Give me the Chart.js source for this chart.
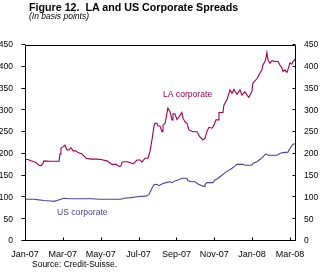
<!DOCTYPE html>
<html>
<head>
<meta charset="utf-8">
<script src="https://cdn.jsdelivr.net/npm/chart.js@4/dist/chart.umd.min.js"></script>
<style>
  html, body { margin: 0; padding: 0; background: #fff; }
  #wrap { position: relative; width: 320px; height: 279px; overflow: hidden; font-family: "Liberation Sans", Arial, sans-serif; color: #000; }
  #c { position: absolute; left: 0; top: 0; }
  .txt { position: absolute; white-space: nowrap; line-height: 1; }
  #title { left: 29px; top: 1.5px; font-size: 10.7px; font-weight: bold; }
  #subtitle { left: 29px; top: 11.8px; font-size: 8.5px; font-style: italic; }
  #source { left: 32px; top: 259.8px; font-size: 8.5px; }
</style>
</head>
<body>
<div id="wrap">
  <canvas id="c" width="320" height="279"></canvas>
  <div class="txt" id="title">Figure 12.&nbsp; LA and US Corporate Spreads</div>
  <div class="txt" id="subtitle">(In basis points)</div>
  <div class="txt" id="source">Source: Credit-Suisse.</div>
</div>
<script>
// Tick labels on the time axis (every two months, starting Jan-07 = month 0)
const xTickLabels = ['Jan-07', 'Mar-07', 'May-07', 'Jul-07', 'Sep-07', 'Nov-07', 'Jan-08', 'Mar-08'];

// LA corporate spread: months since 1 Jan 2007 and basis points
const laMonths = [0, 0.16, 0.32, 0.58, 0.74, 0.85, 0.95, 1.0, 1.32, 1.8, 1.85, 1.9, 2.0, 2.11, 2.22, 2.32, 2.43, 2.54, 2.69, 2.8,
  3.01, 3.22, 3.49, 3.8, 4.01, 4.33, 4.6, 4.81, 4.97, 5.07, 5.12, 5.18, 5.39, 5.55, 5.71, 5.92, 6.08, 6.18, 6.34, 6.5,
  6.6, 6.71, 6.81, 6.87, 6.97, 7.03, 7.13, 7.24, 7.29, 7.4, 7.5, 7.55, 7.66, 7.77, 7.82, 7.92, 8.03, 8.14, 8.29, 8.35,
  8.45, 8.56, 8.66, 8.87, 9.09, 9.24, 9.4, 9.51, 9.61, 9.72, 9.88, 9.98, 10.09, 10.2, 10.25, 10.46, 10.51, 10.67, 10.72, 10.83,
  10.94, 11.04, 11.2, 11.36, 11.46, 11.62, 11.73, 11.83, 11.99, 12.04, 12.26, 12.41, 12.52, 12.57, 12.68, 12.73, 12.78, 12.84, 12.94, 13.05,
  13.21, 13.37, 13.47, 13.58, 13.63, 13.73, 13.84, 13.89, 14.0, 14.1, 14.16, 14.26, 14.32];
const laSpread = [187, 187, 184, 180, 174, 173, 178, 184, 183, 183, 200, 213, 216, 220, 209, 209, 214, 207, 207, 203,
  200, 190, 188, 188, 187, 184, 176, 176, 171, 172, 180, 182, 182, 180, 177, 186, 186, 181, 190, 190,
  205, 232, 262, 270, 270, 264, 264, 251, 266, 270, 293, 305, 297, 278, 292, 292, 279, 285, 295, 282,
  274, 270, 255, 251, 251, 239, 232, 236, 251, 261, 259, 266, 278, 278, 295, 295, 312, 324, 331, 347,
  339, 348, 337, 347, 335, 343, 335, 330, 343, 362, 373, 385, 393, 404, 412, 420, 433, 416, 408, 414,
  412, 412, 404, 397, 389, 393, 387, 393, 409, 406, 412, 417, 420];

// US corporate spread: months since 1 Jan 2007 and basis points
const usMonths = [0, 0.48, 0.63, 1.0, 1.37, 1.53, 1.69, 2.06, 2.32, 3.49, 3.96, 5.07, 5.23, 5.6, 6.02, 6.39, 6.55, 6.71, 6.81, 6.97,
  7.08, 7.18, 7.29, 7.45, 7.66, 7.77, 7.92, 8.08, 8.29, 8.56, 8.61, 8.82, 8.98, 9.14, 9.35, 9.46, 9.51, 9.61, 9.93, 10.04,
  10.2, 10.41, 10.57, 10.72, 10.94, 11.09, 11.2, 11.52, 11.62, 11.99, 12.04, 12.26, 12.41, 12.57, 12.73, 12.84, 13.31, 13.47, 13.63, 13.89,
  14.0, 14.16, 14.32];
const usSpread = [96, 96, 95, 93, 92, 91, 93, 98, 97, 97, 96, 96, 98, 99.5, 102, 103, 107, 121, 129, 130,
  127, 130, 132, 134, 136, 134, 138, 140, 144, 144, 138, 136, 136, 131, 127, 125, 129, 134, 134, 140,
  144, 151, 157, 161, 167, 172, 176, 176, 174, 174, 178, 182, 187, 193, 200, 197, 197, 201, 203, 204,
  213, 222, 224];

// Value axis
const yMin = 0, yMax = 450, yStep = 50;
const xMax = 14.32;

// Line labels (anchored in data coordinates)
const seriesLabels = [
  { text: 'LA corporate', x: 7.29, y: 337, color: '#990050' },
  { text: 'US corporate', x: 1.69, y: 66, color: '#4B4399' }
];

const FONT = '"Liberation Sans", Arial, sans-serif';

const frame = {
  id: 'frame',
  afterDraw(chart) {
    const { ctx, chartArea: a, scales } = chart;
    ctx.save();
    ctx.strokeStyle = '#000';
    ctx.lineWidth = 1;
    const L = Math.round(a.left) + 0.5, R = Math.round(a.right) - 0.5;
    const T = Math.round(a.top) + 0.5, B = Math.round(a.bottom) - 0.5;
    ctx.beginPath();
    ctx.rect(L, T, R - L, B - T);
    // left axis ticks (outside)
    scales.y.ticks.forEach(t => {
      const py = Math.round(scales.y.getPixelForValue(t.value)) - 0.5;
      ctx.moveTo(L - 4, py); ctx.lineTo(L, py);
    });
    // right axis ticks (inside)
    scales.y2.ticks.forEach(t => {
      const py = Math.round(scales.y2.getPixelForValue(t.value)) - 0.5;
      ctx.moveTo(R - 3, py); ctx.lineTo(R, py);
    });
    // x axis ticks (inside)
    scales.x.ticks.forEach(t => {
      const px = Math.round(scales.x.getPixelForValue(t.value)) + 0.5;
      ctx.moveTo(px, B); ctx.lineTo(px, B - 3);
    });
    ctx.stroke();
    ctx.restore();
  },
  afterDatasetsDraw(chart) {
    const { ctx, scales } = chart;
    ctx.save();
    ctx.font = '8.6px ' + FONT;
    ctx.textAlign = 'left';
    ctx.textBaseline = 'middle';
    seriesLabels.forEach(l => {
      ctx.fillStyle = l.color;
      ctx.fillText(l.text, scales.x.getPixelForValue(l.x), scales.y.getPixelForValue(l.y));
    });
    ctx.restore();
  }
};

new Chart(document.getElementById('c'), {
  type: 'line',
  data: {
    datasets: [
      {
        label: 'LA corporate',
        data: laMonths.map((m, i) => ({ x: m, y: laSpread[i] })),
        borderColor: '#990050',
        borderWidth: 1.1,
        pointRadius: 0,
        tension: 0,
        fill: false,
        yAxisID: 'y'
      },
      {
        label: 'US corporate',
        data: usMonths.map((m, i) => ({ x: m, y: usSpread[i] })),
        borderColor: '#4B4399',
        borderWidth: 1.1,
        pointRadius: 0,
        tension: 0,
        fill: false,
        yAxisID: 'y'
      }
    ]
  },
  options: {
    responsive: false,
    animation: false,
    events: [],
    layout: { padding: { top: 45, left: 0, right: 0, bottom: 0 } },
    plugins: { legend: { display: false }, tooltip: { enabled: false }, title: { display: false } },
    scales: {
      x: {
        type: 'linear',
        min: 0,
        max: xMax,
        afterBuildTicks(scale) { scale.ticks = xTickLabels.map((l, i) => ({ value: i * 2 })); },
        afterFit(scale) { scale.height = 38; },
        grid: { display: false, drawTicks: false },
        border: { display: false },
        ticks: {
          autoSkip: false, maxRotation: 0, padding: 8,
          color: '#000', font: { family: FONT, size: 9 },
          callback: (v) => xTickLabels[Math.round(v / 2)]
        }
      },
      y: {
        position: 'left',
        min: yMin, max: yMax,
        afterFit(scale) { scale.width = 25; },
        grid: { display: false, drawTicks: false },
        border: { display: false },
        ticks: { stepSize: yStep, padding: 12, color: '#000', font: { family: FONT, size: 8.5 } }
      },
      y2: {
        position: 'right',
        min: yMin, max: yMax,
        afterFit(scale) { scale.width = 24; },
        grid: { display: false, drawTicks: false },
        border: { display: false },
        ticks: { stepSize: yStep, padding: 8, color: '#000', font: { family: FONT, size: 8.5 } }
      }
    }
  },
  plugins: [frame]
});
</script>
</body>
</html>
